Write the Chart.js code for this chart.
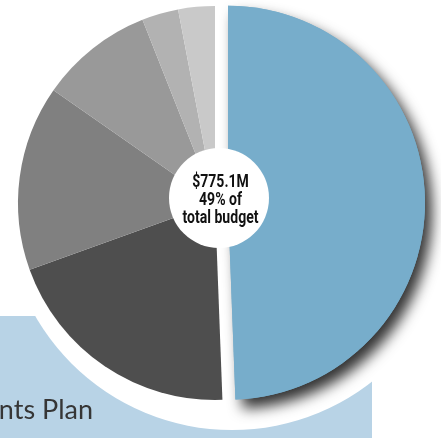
<!DOCTYPE html>
<html>
<head>
<meta charset="utf-8">
<script src="https://cdn.jsdelivr.net/npm/chart.js@4.4.0/dist/chart.umd.min.js"></script>
<style>
html, body { margin: 0; padding: 0; background: #fff; }
#wrap { width: 441px; height: 438px; position: relative; }
</style>
</head>
<body>
<div id="wrap"><canvas id="myChart"></canvas></div>
<script>
// slice values in percent of total budget, clockwise from the top
const labels = ['Highlighted', 'Other 1', 'Other 2', 'Other 3', 'Other 4', 'Other 5'];
const values = [49.4, 20.1, 15.2, 9.3, 3, 3];
const colors = ['#77adcb', '#4e4e4e', '#808080', '#999999', '#b2b2b2', '#c9c9c9'];
const centerLines = ['$775.1M', '49% of', 'total budget'];
const titleText = 'nts Plan';

const pullOut = 13; // px the first slice is pulled away from the rest

var ctx = document.getElementById('myChart').getContext('2d');

const decor = {
    id: 'decor',
    beforeDraw(chart) {
        const c = chart.ctx;
        c.save();
        c.fillStyle = '#b8d3e6';
        c.fillRect(0, 316, 372, chart.height - 316);
        c.fillStyle = '#363636';
        c.font = '27px Lato';
        c.textAlign = 'right';
        c.textBaseline = 'alphabetic';
        c.fillText(titleText, 93, 419);
        c.restore();
    },
    beforeDatasetDraw(chart, args) {
        const c = chart.ctx;
        const arcs = chart.getDatasetMeta(args.index).data;
        const first = arcs[0];
        const half = (first.startAngle + first.endAngle) / 2;
        const dx = Math.cos(half) * pullOut;
        const dy = Math.sin(half) * pullOut;

        // white disc behind the pie
        c.save();
        c.fillStyle = '#ffffff';
        c.beginPath();
        c.arc(first.x + 17, first.y, first.outerRadius + 30, 0, Math.PI * 2);
        c.fill();
        c.restore();

        // shadow under the pulled out slice
        c.save();
        c.translate(dx, dy);
        c.shadowColor = 'rgba(0,0,0,0.8)';
        c.shadowBlur = 14;
        c.shadowOffsetX = 7;
        c.shadowOffsetY = 9;
        first.draw(c);
        c.restore();

        arcs.forEach((arc, i) => {
            c.save();
            if (i === 0) c.translate(dx, dy);
            arc.draw(c);
            c.restore();
        });
        return false;
    },
    afterDatasetsDraw(chart) {
        const c = chart.ctx;
        const first = chart.getDatasetMeta(0).data[0];
        const x = first.x + 4;
        const y = first.y - 5;
        c.save();
        c.fillStyle = '#ffffff';
        c.beginPath();
        c.arc(x, y, 50, 0, Math.PI * 2);
        c.fill();
        c.fillStyle = '#111111';
        c.font = 'bold 18px Roboto';
        c.textAlign = 'center';
        c.textBaseline = 'alphabetic';
        c.translate(x + 1.5, 0);
        c.scale(0.78, 1);
        c.fillText(centerLines[0], 0, y - 11);
        c.fillText(centerLines[1], 0, y + 7);
        c.fillText(centerLines[2], 0, y + 25);
        c.restore();
    }
};

var myChart = new Chart(ctx, {
    type: 'pie',
    data: {
        labels: labels,
        datasets: [{
            data: values,
            backgroundColor: colors,
            borderWidth: 0
        }]
    },
    options: {
        responsive: true,
        maintainAspectRatio: false,
        animation: false,
        radius: 197,
        layout: {
            padding: { left: 0, right: 11, top: 0, bottom: 32 }
        },
        plugins: {
            legend: { display: false },
            tooltip: { enabled: false }
        }
    },
    plugins: [decor]
});
</script>
</body>
</html>
